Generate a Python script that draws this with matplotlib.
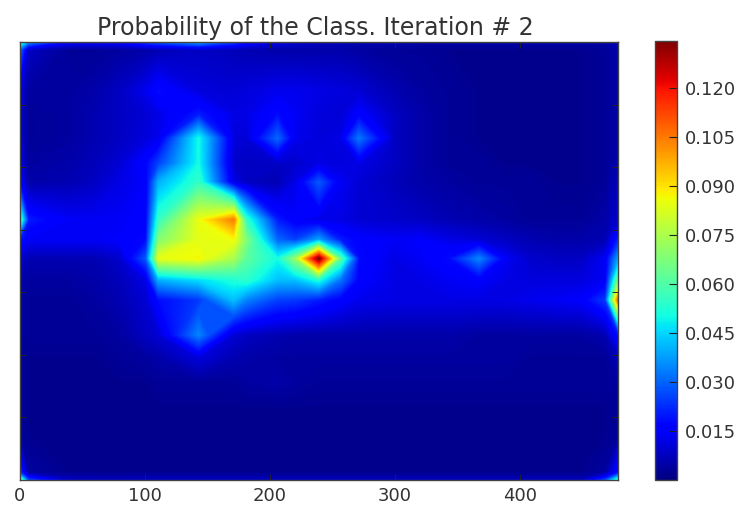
import numpy as np
import matplotlib
matplotlib.use("Agg")
import matplotlib.pyplot as plt
from matplotlib.cm import ScalarMappable
from matplotlib.colors import Normalize

title = "Probability of the Class. Iteration # 2"
x_ticks = [0, 100, 200, 300, 400]
y_ticks = [0, 50, 100, 150, 200, 250, 300, 350]
cbar_ticks = [0.015, 0.030, 0.045, 0.060, 0.075, 0.090, 0.105, 0.120]
value_min = 0.0
value_max = 0.1344

x_samples = [0, 7, 40, 60, 80, 101, 111, 143, 171, 181, 206, 220, 239, 256, 271, 299, 319, 344, 367, 388, 408, 428, 448, 468, 479]
y_samples = [0, 6, 39, 58, 77, 97, 112, 142, 158, 173, 190, 206, 234, 252, 272, 292, 311, 344, 350]

# probability in thousandths, one row per y sample
row00 = [60,35,15,15,16,24,28,38,25,18,12,10,8,7,6,6,5,5,5,5,5,5,5,5,6]
row01 = [32,8,3,3,4,5,6,8,7,6,5,5,5,5,4,3,3,2,2,2,2,2,2,3,6]
row02 = [12,4,4,5,8,13,18,11,10,11,13,13,12,11,10,6,4,3,2,2,2,2,2,3,5]
row03 = [10,3,4,6,8,10,12,20,12,12,18,14,11,10,16,8,5,3,2,2,2,2,2,3,5]
row04 = [10,3,4,6,8,11,13,50,11,10,30,13,11,12,32,8,5,3,2,2,2,2,2,3,5]
row05 = [12,4,5,7,10,17,25,50,9,8,8,9,12,11,12,8,5,3,3,2,2,2,2,3,6]
row06 = [18,5,6,8,12,15,40,55,12,8,6,12,28,14,10,7,5,4,3,3,3,2,2,3,8]
row07 = [62,20,14,14,14,16,55,85,104,55,20,15,12,12,10,9,8,6,5,4,3,3,3,5,10]
row08 = [20,14,14,14,15,18,68,84,86,68,30,25,38,20,16,14,15,12,10,8,6,5,5,6,22]
row09 = [10,6,6,6,9,28,84,87,74,62,50,70,134,62,18,12,14,18,34,14,9,8,8,14,40]
row10 = [6,4,4,5,7,12,40,46,52,54,42,42,52,32,16,12,12,14,15,12,11,11,11,14,70]
row11 = [4,3,3,4,6,10,18,24,42,34,25,24,20,16,13,12,12,12,12,12,13,14,15,24,115]
row12 = [4,3,3,3,4,8,10,34,10,8,6,5,5,5,5,5,5,5,4,4,4,4,4,6,20]
row13 = [3,2,2,2,3,4,5,11,6,5,4,4,4,4,4,4,4,4,4,4,3,3,3,3,8]
row14 = [3,2,2,2,2,2,3,3,3,4,5,4,3,3,3,3,3,3,3,3,3,3,3,3,4]
row15 = [3,2,2,2,2,2,2,2,2,2,2,2,2,2,2,2,2,2,2,2,2,2,2,2,3]
row16 = [3,2,2,2,2,2,2,2,2,2,2,2,2,2,2,2,2,2,2,2,2,2,2,2,3]
row17 = [25,4,2,2,2,2,2,2,2,2,2,2,2,2,2,2,2,2,2,2,2,2,2,4,20]
row18 = [70,25,8,7,7,8,8,8,8,8,7,7,7,7,7,7,7,7,7,7,7,7,7,25,60]

rows = [row00, row01, row02, row03, row04, row05, row06, row07, row08, row09,
        row10, row11, row12, row13, row14, row15, row16, row17, row18]
probability = np.array(rows, dtype=float) / 1000.0

W, H = 746, 507
fig = plt.figure(figsize=(W / 100, H / 100), dpi=100, facecolor="white")
ax = fig.add_axes([19.5 / W, 1 - 480 / H, 598.5 / W, 438 / H])

norm = Normalize(vmin=value_min, vmax=value_max)
levels = np.linspace(value_min, value_max, 257)
ax.contourf(x_samples, y_samples, probability, levels=levels, cmap="jet", norm=norm,
            antialiased=False)
ax.set_xlim(0, 478)
ax.set_ylim(350, 0)
ax.set_xticks(x_ticks)
ax.set_yticks(y_ticks)
ax.set_yticklabels([])
ax.tick_params(direction="in", top=True, right=True, length=4, width=0.7,
               color="#222222", labelsize=13, labelcolor="#333333", pad=5)
for s in ax.spines.values():
    s.set_color("#444444")
    s.set_linewidth(1.0)
ax.set_title(title, fontsize=17, color="#333333", pad=5, x=0.495)

cax = fig.add_axes([655 / W, 1 - 480 / H, 22 / W, 439 / H])
cb = fig.colorbar(ScalarMappable(norm=norm, cmap="jet"), cax=cax, ticks=cbar_ticks, format="%.3f")
cb.ax.tick_params(direction="in", length=6, width=0.8, color="#222222",
                  labelsize=13, labelcolor="#333333", pad=6)
cb.outline.set_edgecolor("#444444")
cb.outline.set_linewidth(1.0)

fig.savefig("out.png", dpi=100)
